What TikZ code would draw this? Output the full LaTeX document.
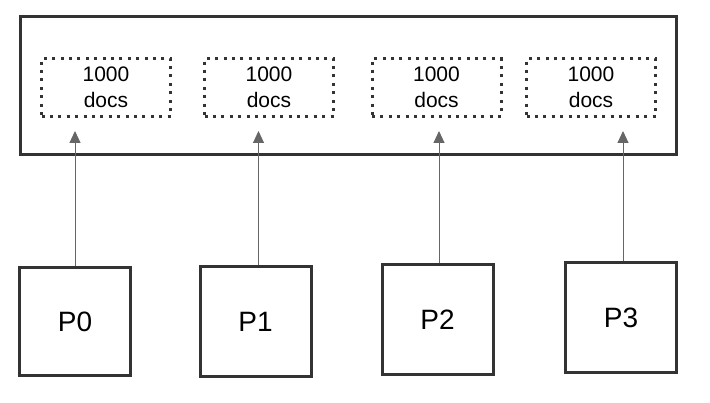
\documentclass[tikz,border=0pt]{standalone}
\usepackage{fontspec}
\setmainfont{Liberation Sans}
\usetikzlibrary{arrows.meta}
\definecolor{boxline}{HTML}{333333}
\definecolor{connline}{HTML}{666666}
\tikzset{
  outerbox/.style={draw=boxline, line width=3pt, minimum width=656pt, minimum height=138pt, inner sep=0pt},
  docbox/.style={draw=boxline, line width=3pt, dash pattern=on 3pt off 5.4pt, minimum width=129pt, minimum height=58pt, inner sep=0pt, align=center, font=\fontsize{21}{26}\selectfont},
  procbox/.style={draw=boxline, line width=3pt, minimum width=111pt, minimum height=108pt, inner sep=0pt, font=\fontsize{28}{32}\selectfont},
  conn/.style={draw=connline, line width=1pt, -{Triangle[width=11pt,length=12pt]}}
}
\begin{document}
\begin{tikzpicture}[x=1pt,y=-1pt]
  \useasboundingbox[fill=white] (0,0) rectangle (710,403);
  % shared store
  \node[outerbox] (store) at (348.5,85.5) {};
  \node[docbox] (D0) at (106,87.5) {1000\\docs};
  \node[docbox] (D1) at (269,87.5) {1000\\docs};
  \node[docbox] (D2) at (436.5,87.5) {1000\\docs};
  \node[docbox] (D3) at (591,87.5) {1000\\docs};
  % processes
  \node[procbox] (P0) at (75,322) {P0};
  \node[procbox, minimum height=110pt] (P1) at (255.5,322) {P1};
  \node[procbox, minimum height=110pt] (P2) at (437.5,320) {P2};
  \node[procbox, minimum height=110pt] (P3) at (621,318) {P3};
  \coordinate (tip) at (0,131);
  \draw[conn] (P0.north) -- (P0.north |- tip);
  \draw[conn] ([xshift=3pt]P1.north) -- ([xshift=3pt]P1.north |- tip);
  \draw[conn] ([xshift=1.5pt]P2.north) -- ([xshift=1.5pt]P2.north |- tip);
  \draw[conn] ([xshift=2pt]P3.north) -- ([xshift=2pt]P3.north |- tip);
\end{tikzpicture}
\end{document}
